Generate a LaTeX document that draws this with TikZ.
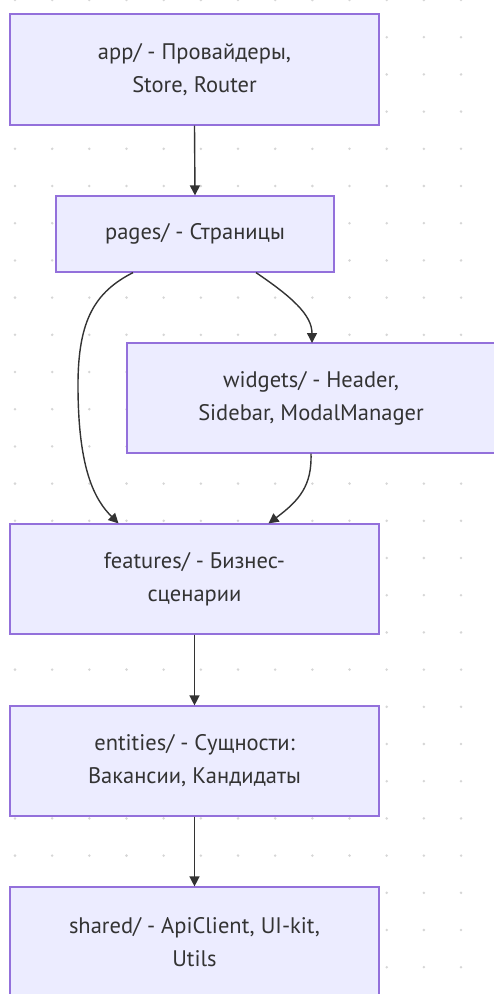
\documentclass[tikz,border=0pt]{standalone}
\usepackage{fontspec}
\setmainfont{PT Sans}
\usetikzlibrary{arrows.meta}
\definecolor{boxfill}{HTML}{ECECFF}
\definecolor{boxline}{HTML}{9370DB}
\definecolor{ink}{HTML}{333333}
\definecolor{griddot}{HTML}{D6D6D6}
\tikzset{
  layer/.style={draw=boxline, fill=boxfill, line width=1.2pt, text=ink,
    align=center, font=\fontsize{22.5}{33}\selectfont, inner sep=0pt},
  link/.style={draw=ink, line width=1.4pt, -{Triangle[length=10pt,width=10pt]}},
}
\begin{document}
\begin{tikzpicture}[x=1pt,y=-1pt]
  \useasboundingbox (0,0) rectangle (494,994);
  % dotted background grid
  \foreach \j in {0,...,12}
    \foreach \k in {0,...,26}
      \fill[griddot] ({15+37.17*\j},{37.2*\k}) circle (1.4pt);

  % layers
  \node[layer, minimum width=369pt, minimum height=111pt] (app) at (194.5,69.5)
    {app/ - Провайдеры,\\Store, Router};
  \node[layer, minimum width=278pt, minimum height=76pt] (pages) at (195,234)
    {pages/ - Страницы};
  \node[layer, minimum width=368pt, minimum height=110pt] (widgets) at (311,398)
    {widgets/ - Header,\\Sidebar, ModalManager};
  \node[layer, minimum width=369pt, minimum height=110pt] (features) at (194.5,579)
    {features/ - Бизнес-\\сценарии};
  \node[layer, minimum width=369pt, minimum height=110pt] (entities) at (194.5,761)
    {entities/ - Сущности:\\Вакансии, Кандидаты};
  \node[layer, minimum width=369pt, minimum height=110pt] (shared) at (194.5,942)
    {shared/ - ApiClient, UI-kit,\\Utils};

  % dependencies
  \draw[link] (app.south) -- (pages.north);
  \draw[link] ([xshift=61pt]pages.south) .. controls (292,297) and (312,315) .. (312,343);
  \draw[link] ([xshift=-62pt]pages.south) .. controls (95,292) and (78,320) .. (78,385)
    .. controls (78,470) and (95,500) .. ([xshift=-76pt]features.north);
  \draw[link] (widgets.south) .. controls (312,485) and (300,500) .. ([xshift=74pt]features.north);
  \draw[link] (features.south) -- (entities.north);
  \draw[link] (entities.south) -- (shared.north);
\end{tikzpicture}
\end{document}
